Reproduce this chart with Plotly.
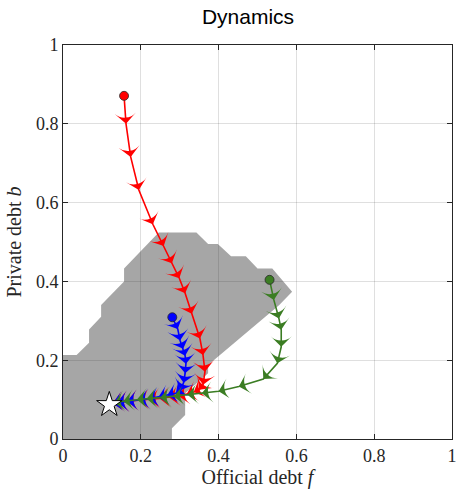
import plotly.graph_objects as go

# Trajectories in (official debt f, private debt b); first entry is the starting point
red_f = [0.157, 0.162, 0.174, 0.195, 0.231, 0.259, 0.280, 0.299, 0.314, 0.331, 0.352,
         0.360, 0.365, 0.360, 0.350, 0.336, 0.318, 0.296, 0.272, 0.248, 0.222, 0.195,
         0.165, 0.140, 0.128]
red_b = [0.871, 0.800, 0.716, 0.632, 0.545, 0.490, 0.446, 0.408, 0.370, 0.318, 0.255,
         0.213, 0.171, 0.138, 0.125, 0.119, 0.114, 0.110, 0.106, 0.103, 0.101, 0.099,
         0.096, 0.093, 0.091]

blue_f = [0.281, 0.295, 0.301, 0.309, 0.314, 0.316, 0.314, 0.310, 0.302, 0.290, 0.268,
          0.245, 0.220, 0.195, 0.165, 0.140, 0.128]
blue_b = [0.309, 0.279, 0.250, 0.229, 0.211, 0.191, 0.167, 0.143, 0.124, 0.116, 0.111,
          0.106, 0.102, 0.099, 0.096, 0.093, 0.091]

green_f = [0.531, 0.542, 0.555, 0.561, 0.561, 0.551, 0.515, 0.452, 0.400, 0.357, 0.320,
           0.285, 0.250, 0.215, 0.190, 0.155, 0.132]
green_b = [0.404, 0.353, 0.306, 0.277, 0.234, 0.192, 0.152, 0.133, 0.121, 0.116, 0.112,
           0.108, 0.105, 0.102, 0.100, 0.096, 0.092]

# Steady state
steady_f = [0.119]
steady_b = [0.087]

# Boundary of the shaded region
region_f = [0.0, 0.0, 0.035, 0.067, 0.067, 0.098, 0.098, 0.157, 0.157, 0.246, 0.343,
            0.373, 0.398, 0.432, 0.470, 0.500, 0.538, 0.589, 0.556, 0.373, 0.373,
            0.314, 0.314, 0.280, 0.280]
region_b = [0.0, 0.213, 0.213, 0.244, 0.278, 0.310, 0.340, 0.400, 0.433, 0.524, 0.524,
            0.495, 0.495, 0.464, 0.464, 0.433, 0.433, 0.374, 0.340, 0.188, 0.167,
            0.116, 0.061, 0.027, 0.0]

tick_vals = [0, 0.2, 0.4, 0.6, 0.8, 1]
tick_text = ["0", "0.2", "0.4", "0.6", "0.8", "1"]

AXIS_COLOR = "#262626"
GRID_COLOR = "rgba(38,38,38,0.15)"
SERIF = "Liberation Serif, DejaVu Serif, serif"

fig = go.Figure()

region_path = "M " + " L ".join(f"{f},{b}" for f, b in zip(region_f, region_b)) + " Z"
fig.add_shape(type="path", path=region_path, xref="x", yref="y",
              fillcolor="#a6a6a6", line=dict(width=0), layer="below")

series = [
    (red_f, red_b, "#ff0000"),
    (blue_f, blue_b, "#0000ff"),
    (green_f, green_b, "#3b7d23"),
]
for fs, bs, col in series:
    fig.add_trace(go.Scatter(
        x=fs, y=bs, mode="lines+markers",
        line=dict(color=col, width=1.6, backoff=0),
        marker=dict(symbol="arrow-wide", angleref="previous", size=15, color=col,
                    line=dict(width=0)),
        hoverinfo="skip", showlegend=False,
    ))
for fs, bs, col in series:
    fig.add_trace(go.Scatter(
        x=fs[:1], y=bs[:1], mode="markers",
        marker=dict(symbol="circle", size=9, color=col,
                    line=dict(color="rgba(40,40,40,0.8)", width=1)),
        hoverinfo="skip", showlegend=False,
    ))

fig.add_trace(go.Scatter(
    x=steady_f, y=steady_b, mode="markers",
    marker=dict(symbol="star", size=19, color="white", line=dict(color="black", width=1)),
    hoverinfo="skip", showlegend=False,
))

axis_common = dict(
    range=[0, 1], tickvals=tick_vals, ticktext=tick_text,
    showgrid=True, gridcolor=GRID_COLOR, gridwidth=1,
    showline=True, linecolor=AXIS_COLOR, linewidth=1, mirror="ticks",
    ticks="inside", ticklen=5, tickcolor=AXIS_COLOR, tickwidth=1,
    tickfont=dict(family=SERIF, size=18, color=AXIS_COLOR),
    ticklabeloverflow="allow",
    zeroline=False, fixedrange=True,
)

fig.update_layout(
    width=459, height=490, autosize=False,
    margin=dict(l=63, r=2, t=45, b=51),
    paper_bgcolor="white", plot_bgcolor="white",
    title=dict(text="Dynamics", x=248 / 459, xanchor="center", y=1 - 17 / 490,
               yanchor="middle",
               font=dict(family="Liberation Sans, Arial, sans-serif", size=21, color="black")),
    xaxis=dict(axis_common,
               title=dict(text="Official debt <i>f</i>", standoff=5,
                          font=dict(family=SERIF, size=20, color=AXIS_COLOR))),
    yaxis=dict(axis_common,
               title=dict(text="Private debt <i>b</i>", standoff=8,
                          font=dict(family=SERIF, size=20, color=AXIS_COLOR))),
)

fig.write_html("out.html")
